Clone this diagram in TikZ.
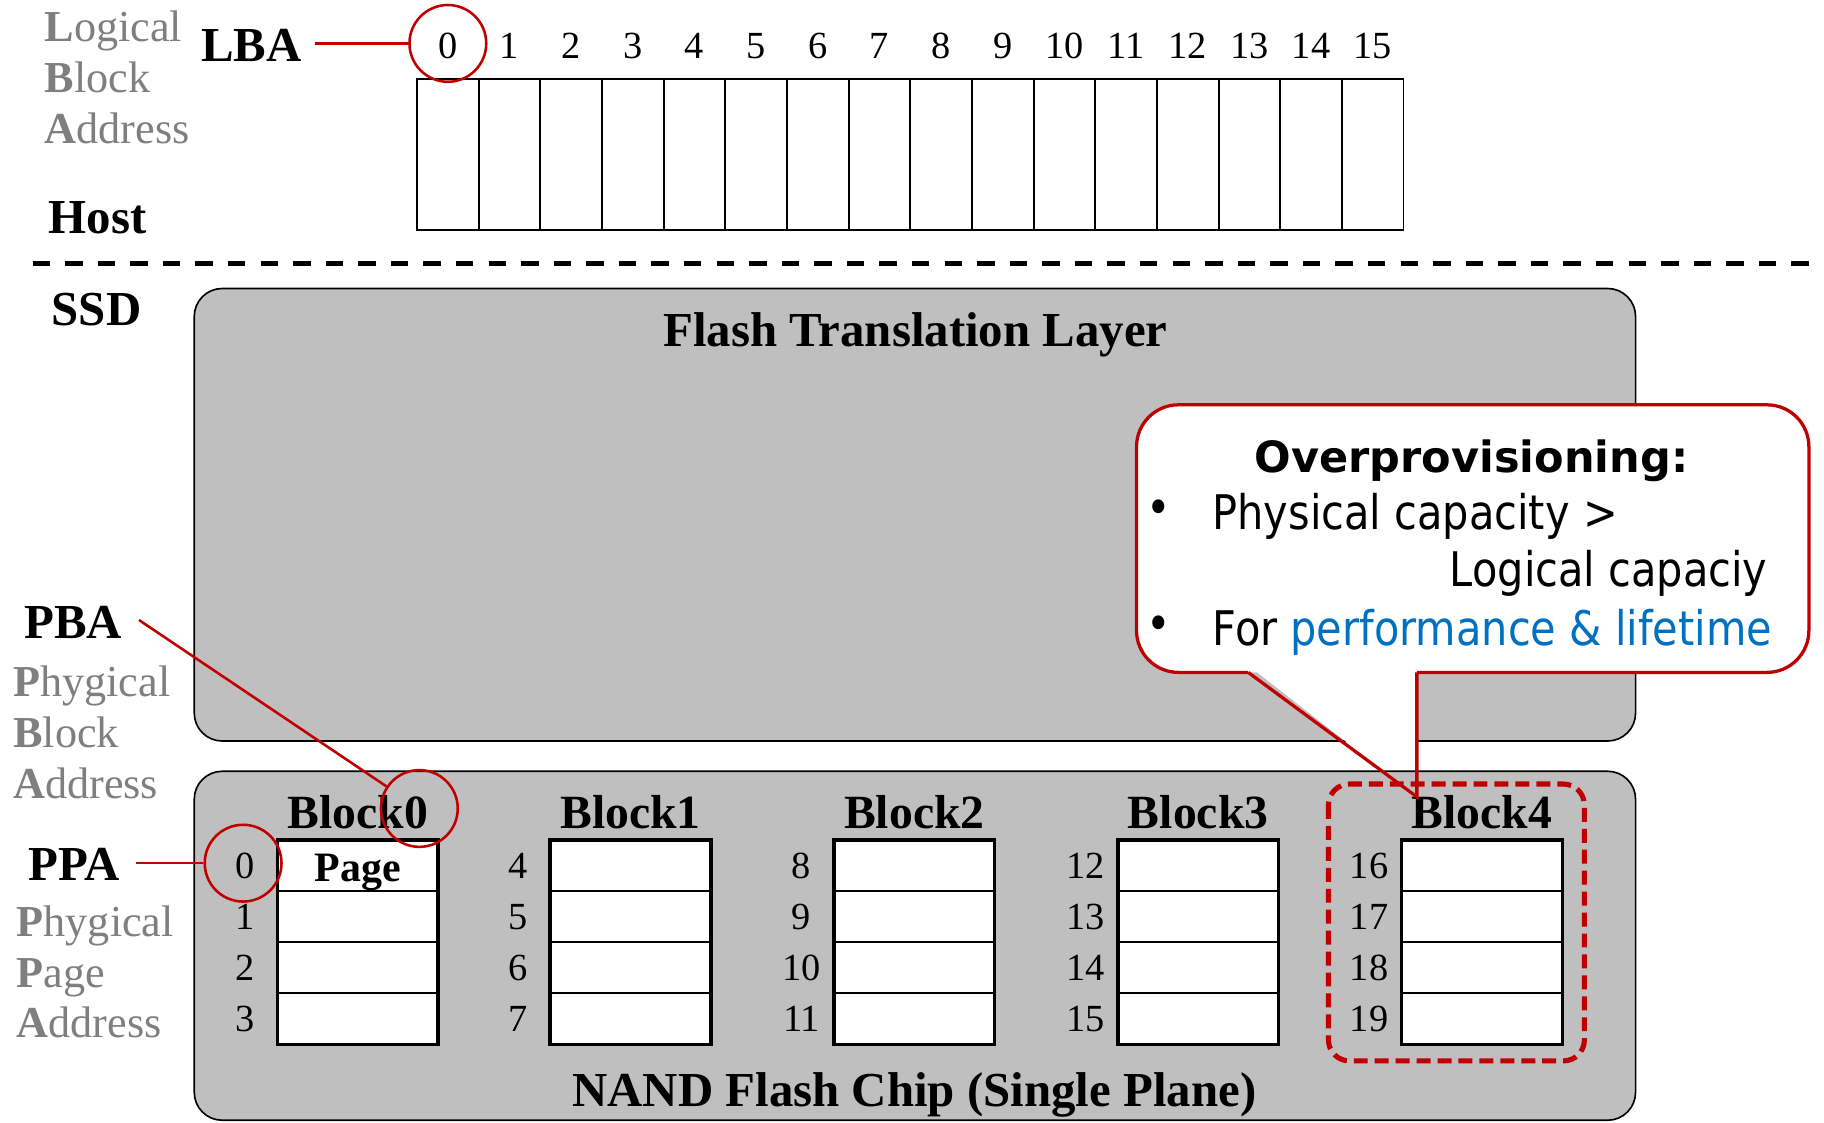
\documentclass[tikz,border=0pt]{standalone}
\usepackage{fontspec}
\setmainfont{Liberation Serif}
\newfontfamily\cfont{DejaVu Sans}[FakeStretch=0.87]
\newfontfamily\cbfont{DejaVu Sans}
\definecolor{dred}{HTML}{C00000}
\definecolor{boxgray}{HTML}{BFBFBF}
\definecolor{txtgray}{HTML}{7F7F7F}
\definecolor{pblue}{HTML}{0070C0}
\tikzset{
  bigl/.style={font=\fontsize{21}{25}\selectfont\bfseries, inner sep=0pt, anchor=base},
  blockl/.style={font=\fontsize{20.5}{25}\selectfont\bfseries, inner sep=0pt, anchor=base},
  grayl/.style={font=\fontsize{19}{22}\selectfont, text=txtgray, inner sep=0pt, anchor=base west},
  num/.style={font=\fontsize{16.5}{20}\selectfont, inner sep=0pt},
  cellbox/.style={draw, line width=0.85pt, minimum width=26.5pt, minimum height=65pt, inner sep=0pt, fill=white},
  pagerow/.style={draw, line width=0.85pt, fill=white, minimum width=69pt, minimum height=22pt, inner sep=0pt},
  outerblk/.style={draw, line width=1.5pt},
  redline/.style={draw=dred, line width=1.1pt},
  ring/.style={circle, draw=dred, line width=1.1pt, minimum size=33pt, inner sep=0pt},
  panel/.style={fill=boxgray, draw=black, line width=0.7pt, rounded corners=12pt},
  cbody/.style={font={\cfont\fontsize{20.5}{24}\selectfont}, inner sep=0pt},
  ctitle/.style={font={\cbfont\bfseries\fontsize{18.5}{22}\selectfont}, inner sep=0pt, anchor=base},
  calloutline/.style={draw=dred, line width=1.4pt},
}
\begin{document}
\begin{tikzpicture}[x=0.5pt,y=-0.5pt]
\useasboundingbox (0,0) rectangle (1568,965);

% ---------- Host side ----------
\node[grayl] (lg1) at (38,36) {\textbf{L}ogical};
\node[grayl] (lg2) at (38,79.5) {\textbf{B}lock};
\node[grayl] (lg3) at (38,123) {\textbf{A}ddress};
\node[bigl] (lba) at (216,53) {LBA};
\node[bigl] (host) at (84,200.5) {Host};

\foreach \i in {0,...,15}{
  \node[cellbox] (lc\i) at ({385+53*\i},133) {};
  \node[num] (ln\i) at ({385+53*\i},39.5) {\i};
}
\node[ring] (r0) at (385,37.3) {};
\coordinate (lbaL) at (271,37.3);
\draw[redline] (lbaL) -- (r0.west);

\coordinate (dashL) at (28,226.5);
\coordinate (dashR) at (1568,226.5);
\draw[line width=2pt, dash pattern=on 7.5pt off 6.5pt] (dashL) -- (dashR);

% ---------- SSD side ----------
\node[bigl] (ssd) at (83,280) {SSD};
\draw[panel] (167,248) rectangle (1406,637);
\node[bigl] (ftl) at (787,298) {Flash Translation Layer};

% callout body
\fill[white, rounded corners=18pt] (977,348) rectangle (1555,578);
\fill[white] (1073,572) -- (1218,572) -- (1218,685) -- cycle;
\draw[calloutline, rounded corners=18pt] (1073,578) -- (977,578) -- (977,348) -- (1555,348) -- (1555,578) -- (1218,578);

% NAND panel
\draw[panel] (167,663) rectangle (1406,963);
\node[bigl] (nand) at (786,951) {NAND Flash Chip (Single Plane)};

\foreach \b/\cx in {0/307.5,1/542,2/786,3/1030,4/1274}{
  \node[blockl] (bl\b) at (\cx,712) {Block\b};
  \foreach \r in {0,...,3}{
    \pgfmathtruncatemacro{\pn}{4*\b+\r}
    \node[pagerow] (p\b r\r) at (\cx,{744+44*\r}) {};
    \node[num] (pn\pn) at ({\cx-97},{744+44*\r}) {\pn};
  }
  \draw[outerblk] ({\cx-69},722) rectangle ({\cx+69},898);
}
\node[font=\fontsize{18}{22}\selectfont\bfseries, inner sep=0pt, anchor=base] (page) at (307.5,758) {Page};

% dashed highlight of Block4
\draw[dred, line width=2.2pt, dash pattern=on 6pt off 3pt, rounded corners=9pt] (1142,674) rectangle (1362,912);

% callout pointer lines (on top)
\draw[calloutline, line join=miter] (1073,578) -- (1218,685) -- (1218,578);

% callout text
\node[ctitle] (opt) at (1265,406.5) {Overprovisioning:};
\node[cbody] (d1) at (996,440) {•};
\node[cbody, anchor=base west] (t1) at (1042,455.6) {Physical capacity >};
\node[cbody, anchor=base west] (t2) at (1246,504.3) {Logical capaciy};
\node[cbody] (d2) at (996,540) {•};
\node[cbody, anchor=base west] (t3) at (1042,554.5) {For \textcolor{pblue}{performance \& lifetime}};

% ---------- PBA / PPA ----------
\node[bigl] (pba) at (63,548.6) {PBA};
\node[grayl] (pb1) at (11,599) {\textbf{P}hygical};
\node[grayl] (pb2) at (11,643) {\textbf{B}lock};
\node[grayl] (pb3) at (11,686) {\textbf{A}ddress};
\node[bigl] (ppa) at (64,757) {PPA};
\node[grayl] (pp1) at (14,805) {\textbf{P}hygical};
\node[grayl] (pp2) at (14,849) {\textbf{P}age};
\node[grayl] (pp3) at (14,892) {\textbf{A}ddress};

\node[ring] (r1) at (360.5,695) {};
\node[ring] (r2) at (209,742) {};
\coordinate (pbaL) at (119.5,533);
\coordinate (ppaL) at (117,742);
\draw[redline] (pbaL) -- (r1);
\draw[redline] (ppaL) -- (r2.west);
\end{tikzpicture}
\end{document}
